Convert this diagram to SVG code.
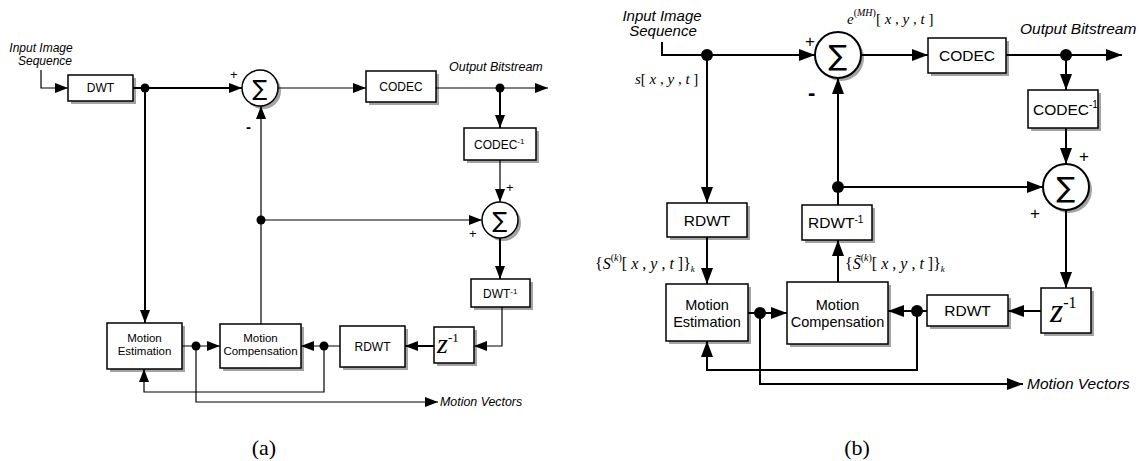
<svg xmlns="http://www.w3.org/2000/svg" width="1142" height="461" viewBox="0 0 1142 461">
<style>
.box{fill:#fff;stroke:#000;stroke-width:1.5}
.sh{fill:#a3a3a3}
.lbl{font-family:"Liberation Sans",Arial,sans-serif;fill:#000}
.c{text-anchor:middle}
.it{font-style:italic}
.math{font-family:"Liberation Serif","Times New Roman",serif;fill:#000}
.ln{fill:none;stroke:#000;stroke-linejoin:miter}
.t1{stroke-width:1.2}
.t2{stroke-width:2}
.dot{fill:#000}
.sig{font-family:"DejaVu Sans",sans-serif;text-anchor:middle;fill:#000}
</style>
<defs>
<marker id="aS" markerUnits="userSpaceOnUse" markerWidth="13" markerHeight="10" refX="13" refY="5" orient="auto"><path d="M0,0 L13,5 L0,10 z" fill="#000"/></marker>
<marker id="aB" markerUnits="userSpaceOnUse" markerWidth="16" markerHeight="12" refX="16" refY="6" orient="auto"><path d="M0,0 L16,6 L0,12 z" fill="#000"/></marker>
</defs>
<rect width="1142" height="461" fill="#fff"/>

<!-- ===== Diagram (a) ===== -->
<g id="a-input" class="lbl it" font-size="12">
<text class="c" x="41" y="52">Input Image</text>
<text class="c" x="45" y="65">Sequence</text>
</g>
<g id="a-dwt"><rect class="sh" x="71" y="78" width="65" height="26"/><rect class="box" x="68" y="75" width="65" height="26"/><text class="lbl c" x="100.5" y="92" font-size="12">DWT</text></g>
<g id="a-sum1"><circle class="sh" cx="263" cy="91" r="18"/><circle cx="260" cy="88" r="18" fill="#fff" stroke="#000" stroke-width="1.5"/><text class="sig" x="260" y="96" font-size="22">∑</text></g>
<g id="a-codec"><rect class="sh" x="369" y="74" width="70" height="31"/><rect class="box" x="366" y="71" width="70" height="31"/><text class="lbl c" x="401" y="91" font-size="12">CODEC</text></g>
<g id="a-out" class="lbl it" font-size="12.5"><text x="449" y="71">Output Bitstream</text></g>
<g id="a-codecinv"><rect class="sh" x="467" y="131" width="72" height="32"/><rect class="box" x="464" y="128" width="72" height="32"/><text class="lbl" x="474" y="149" font-size="12">CODEC<tspan font-size="8" dy="-5">-1</tspan></text></g>
<g id="a-sum2"><circle class="sh" cx="503" cy="223" r="18"/><circle cx="500" cy="220" r="18" fill="#fff" stroke="#000" stroke-width="1.5"/><text class="sig" x="500" y="228" font-size="22">∑</text></g>
<g id="a-dwtinv"><rect class="sh" x="474" y="282" width="59" height="28"/><rect class="box" x="471" y="279" width="59" height="28"/><text class="lbl" x="483" y="298" font-size="12">DWT<tspan font-size="8" dy="-4">-1</tspan></text></g>
<g id="a-z"><rect class="sh" x="437" y="330" width="40" height="36"/><rect class="box" x="434" y="327" width="40" height="36"/><text class="math" x="437" y="353" font-size="28" font-style="italic">z<tspan font-size="13" font-style="normal" dy="-11">-1</tspan></text></g>
<g id="a-rdwt"><rect class="sh" x="343" y="329" width="65" height="41"/><rect class="box" x="340" y="326" width="65" height="41"/><text class="lbl c" x="372.5" y="351" font-size="12">RDWT</text></g>
<g id="a-mc"><rect class="sh" x="223" y="327" width="81" height="44"/><rect class="box" x="220" y="324" width="81" height="44"/><text class="lbl c" x="260.5" y="342" font-size="11.5">Motion</text><text class="lbl c" x="260.5" y="355" font-size="11.5">Compensation</text></g>
<g id="a-me"><rect class="sh" x="110" y="326" width="75" height="46"/><rect class="box" x="107" y="323" width="75" height="46"/><text class="lbl c" x="144.5" y="342" font-size="11.5">Motion</text><text class="lbl c" x="144.5" y="355" font-size="11.5">Estimation</text></g>
<g id="a-signs" class="lbl" font-size="13">
<text x="230" y="79">+</text>
<text x="246" y="132" font-size="15" font-weight="bold">-</text>
<text x="506" y="192">+</text>
<text x="469" y="238">+</text>
</g>
<g id="a-mv" class="lbl it" font-size="12.4"><text x="440" y="406">Motion Vectors</text></g>
<g id="a-caption"><text class="math c" x="264" y="455" font-size="22">(a)</text></g>

<g id="connectors-a">
<path class="ln t1" d="M41,70 V88 H68" marker-end="url(#aS)"/>
<path class="ln t2" d="M133,88 H242" marker-end="url(#aS)"/>
<path class="ln t2" d="M145,88 V323" marker-end="url(#aS)"/>
<path class="ln t1" d="M278,88 H366" marker-end="url(#aS)"/>
<path class="ln t1" d="M436,88 H548" marker-end="url(#aS)"/>
<path class="ln t2" d="M500,88 V128" marker-end="url(#aS)"/>
<path class="ln t1" d="M500,160 V202" marker-end="url(#aS)"/>
<path class="ln t1" d="M261,324 V106" marker-end="url(#aS)"/>
<path class="ln t1" d="M261,220 H482" marker-end="url(#aS)"/>
<path class="ln t2" d="M500,238 V279" marker-end="url(#aS)"/>
<path class="ln t1" d="M502,307 V346 H474" marker-end="url(#aS)"/>
<path class="ln t2" d="M434,346 H405" marker-end="url(#aS)"/>
<path class="ln t1" d="M340,346 H301" marker-end="url(#aS)"/>
<path class="ln t1" d="M182,346 H220" marker-end="url(#aS)"/>
<path class="ln t1" d="M324,346 V392 H144 V369" marker-end="url(#aS)"/>
<path class="ln t1" d="M196,346 V402 H438" marker-end="url(#aS)"/>
<circle class="dot" cx="145" cy="88" r="4.5"/>
<circle class="dot" cx="500" cy="88" r="4.5"/>
<circle class="dot" cx="261" cy="220" r="4.5"/>
<circle class="dot" cx="324" cy="346" r="4.5"/>
<circle class="dot" cx="196" cy="346" r="4.5"/>
</g>

<!-- ===== Diagram (b) ===== -->
<g id="b-input" class="lbl it" font-size="15">
<text class="c" x="662" y="21">Input Image</text>
<text class="c" x="663" y="36">Sequence</text>
</g>
<g id="b-s-label"><text class="math" x="635" y="84" font-size="15"><tspan font-style="italic">s</tspan>[ <tspan font-style="italic">x</tspan> , <tspan font-style="italic">y</tspan> , <tspan font-style="italic">t</tspan> ]</text></g>
<g id="b-e-label"><text class="math" x="847" y="24" font-size="15"><tspan font-style="italic">e</tspan><tspan font-size="10" dy="-8">(</tspan><tspan font-size="10" font-style="italic">MH</tspan><tspan font-size="10">)</tspan><tspan dy="8">[ </tspan><tspan font-style="italic">x</tspan> , <tspan font-style="italic">y</tspan> , <tspan font-style="italic">t</tspan> ]</text></g>
<g id="b-sum1"><circle class="sh" cx="841" cy="58" r="23"/><circle cx="838" cy="55" r="23" fill="#fff" stroke="#000" stroke-width="2"/><text class="sig" x="838" y="65" font-size="28">∑</text></g>
<g id="b-codec"><rect class="sh" x="931" y="41" width="78" height="35"/><rect class="box" x="928" y="38" width="78" height="35"/><text class="lbl c" x="967" y="61" font-size="15.5">CODEC</text></g>
<g id="b-out" class="lbl it" font-size="15.5"><text x="1020" y="34">Output Bitstream</text></g>
<g id="b-codecinv"><rect class="sh" x="1031" y="93" width="70" height="38"/><rect class="box" x="1028" y="90" width="70" height="38"/><text class="lbl" x="1033" y="115" font-size="15.5">CODEC<tspan font-size="10" dy="-7">-1</tspan></text></g>
<g id="b-sum2"><circle class="sh" cx="1069" cy="190" r="23"/><circle cx="1066" cy="187" r="23" fill="#fff" stroke="#000" stroke-width="2"/><text class="sig" x="1066" y="197" font-size="28">∑</text></g>
<g id="b-z"><rect class="sh" x="1044" y="291" width="50" height="45"/><rect class="box" x="1041" y="288" width="50" height="45"/><text class="math" x="1050" y="322" font-size="34" font-style="italic">z<tspan font-size="16" font-style="normal" dy="-14">-1</tspan></text></g>
<g id="b-rdwt2"><rect class="sh" x="930" y="298" width="81" height="31"/><rect class="box" x="927" y="295" width="81" height="31"/><text class="lbl c" x="967.5" y="316" font-size="15.5">RDWT</text></g>
<g id="b-mc"><rect class="sh" x="790" y="285" width="101" height="62"/><rect class="box" x="787" y="282" width="101" height="62"/><text class="lbl c" x="837.5" y="310" font-size="14.5">Motion</text><text class="lbl c" x="837.5" y="327" font-size="14.5">Compensation</text></g>
<g id="b-me"><rect class="sh" x="669" y="287" width="82" height="57"/><rect class="box" x="666" y="284" width="82" height="57"/><text class="lbl c" x="707" y="310" font-size="14.5">Motion</text><text class="lbl c" x="707" y="327" font-size="14.5">Estimation</text></g>
<g id="b-rdwt1"><rect class="sh" x="670" y="206" width="80" height="34"/><rect class="box" x="667" y="203" width="80" height="34"/><text class="lbl c" x="707" y="225.5" font-size="15.5">RDWT</text></g>
<g id="b-rdwtinv"><rect class="sh" x="805" y="208" width="70" height="35"/><rect class="box" x="802" y="205" width="70" height="35"/><text class="lbl" x="808" y="228" font-size="15.5">RDWT<tspan font-size="10" dy="-5">-1</tspan></text></g>
<g id="b-S-label"><text class="math" x="595" y="269" font-size="16">{<tspan font-style="italic">S</tspan><tspan font-size="10" dy="-8">(</tspan><tspan font-size="10" font-style="italic">k</tspan><tspan font-size="10">)</tspan><tspan dy="8">[ </tspan><tspan font-style="italic">x</tspan> , <tspan font-style="italic">y</tspan> , <tspan font-style="italic">t</tspan> ]}<tspan font-size="9" font-style="italic" dy="3">k</tspan></text></g>
<g id="b-St-label"><text class="math" x="845" y="269" font-size="16">{<tspan font-style="italic">S̃</tspan><tspan font-size="10" dy="-8">(</tspan><tspan font-size="10" font-style="italic">k</tspan><tspan font-size="10">)</tspan><tspan dy="8">[ </tspan><tspan font-style="italic">x</tspan> , <tspan font-style="italic">y</tspan> , <tspan font-style="italic">t</tspan> ]}<tspan font-size="9" font-style="italic" dy="3">k</tspan></text></g>
<g id="b-signs" class="lbl" font-size="17">
<text x="805" y="47">+</text>
<text x="808" y="100" font-size="22" font-weight="bold">-</text>
<text x="1079" y="162">+</text>
<text x="1030" y="219">+</text>
</g>
<g id="b-mv" class="lbl it" font-size="15.5"><text x="1027" y="389">Motion Vectors</text></g>
<g id="b-caption"><text class="math c" x="857" y="455" font-size="22">(b)</text></g>

<g id="connectors-b">
<path class="ln t2" d="M662,42 V55 H815" marker-end="url(#aB)"/>
<path class="ln t2" d="M707,55 V203" marker-end="url(#aB)"/>
<path class="ln t2" d="M707,237 V284" marker-end="url(#aB)"/>
<path class="ln t2" d="M748,313 H787" marker-end="url(#aB)"/>
<path class="ln t2" d="M861,55 H928" marker-end="url(#aB)"/>
<path class="ln t2" d="M1006,55 H1122" marker-end="url(#aB)"/>
<path class="ln t2" d="M1066,55 V90" marker-end="url(#aB)"/>
<path class="ln t2" d="M1066,128 V164" marker-end="url(#aB)"/>
<path class="ln t2" d="M1066,210 V288" marker-end="url(#aB)"/>
<path class="ln t2" d="M1041,311 H1008" marker-end="url(#aB)"/>
<path class="ln t2" d="M927,311 H888" marker-end="url(#aB)"/>
<path class="ln t2" d="M838,282 V240" marker-end="url(#aB)"/>
<path class="ln t2" d="M838,205 V78" marker-end="url(#aB)"/>
<path class="ln t2" d="M838,187 H1043" marker-end="url(#aB)"/>
<path class="ln t2" d="M917,311 V370 H707 V341" marker-end="url(#aB)"/>
<path class="ln t2" d="M760,313 V384 H1023" marker-end="url(#aB)"/>
<circle class="dot" cx="707" cy="55" r="6"/>
<circle class="dot" cx="1066" cy="55" r="6"/>
<circle class="dot" cx="838" cy="187" r="6"/>
<circle class="dot" cx="917" cy="311" r="6"/>
<circle class="dot" cx="760" cy="313" r="6"/>
</g>
</svg>
